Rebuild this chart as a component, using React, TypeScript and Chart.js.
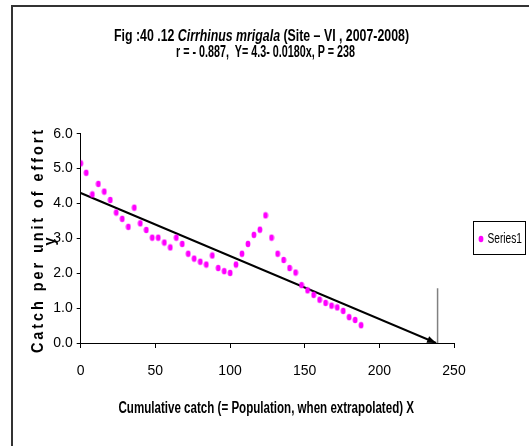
import React, { useEffect, useRef } from "react";
import { Chart, registerables } from "chart.js";
Chart.register(...registerables);

const catchX = [0, 3.7, 7.8, 11.8, 15.8, 19.8, 23.8, 27.8, 31.9, 35.9, 39.9, 43.9, 47.9, 51.9, 56, 60, 64, 68, 72, 76, 80.1, 84.1, 88.1, 92.1, 96.1, 100.1, 104, 108, 112, 116, 120, 123.8, 127.8, 131.9, 135.9, 139.9, 143.9, 147.9, 151.9, 156, 160, 164, 168, 171.8, 175.8, 179.8, 183.8, 187.8];
const cpue = [5.15, 4.88, 4.26, 4.56, 4.34, 4.1, 3.74, 3.56, 3.33, 3.88, 3.43, 3.24, 3.02, 3.02, 2.88, 2.74, 3.02, 2.84, 2.56, 2.42, 2.33, 2.25, 2.51, 2.15, 2.06, 2.01, 2.25, 2.56, 2.84, 3.1, 3.25, 3.66, 3.02, 2.56, 2.38, 2.15, 2.02, 1.66, 1.51, 1.38, 1.24, 1.15, 1.07, 1.02, 0.92, 0.74, 0.66, 0.51];
const fitX = [0, 238];
const fitY = [4.3, 0];
const markX = [239, 239];
const markY = [0, 1.57];
const xTicks = [0, 50, 100, 150, 200, 250];
const yTicks = [0, 1, 2, 3, 4, 5, 6];
const seriesName = "Series1";
const titleParts = [
  { text: "Fig :40 .12 ", italic: false },
  { text: "Cirrhinus mrigala", italic: true },
  { text: " (Site \u2013 VI , 2007-2008)", italic: false },
];
const titleLine2 = "r = - 0.887,  Y= 4.3- 0.0180x, P = 238";
const xTitle = "Cumulative catch (= Population, when extrapolated) X";
const yTitle = "Catch per unit of effort";
const yTitle2 = "y";

const FONT = "'Liberation Sans', Arial, sans-serif";

function makeDot(): HTMLCanvasElement {
  const c = document.createElement("canvas");
  c.width = 6;
  c.height = 8;
  const g = c.getContext("2d")!;
  g.fillStyle = "#ff00ff";
  g.beginPath();
  g.ellipse(3, 4, 2.4, 3.3, 0, 0, Math.PI * 2);
  g.fill();
  return c;
}

// draw text squeezed horizontally to fit [left, right]
function fitText(ctx: CanvasRenderingContext2D, parts: { text: string; font: string }[], left: number, right: number, y: number) {
  let w = 0;
  for (const p of parts) { ctx.font = p.font; w += ctx.measureText(p.text).width; }
  const k = (right - left) / w;
  ctx.save();
  ctx.translate(left, y);
  ctx.scale(k, 1);
  ctx.textAlign = "left";
  ctx.textBaseline = "middle";
  let x = 0;
  for (const p of parts) { ctx.font = p.font; ctx.fillText(p.text, x, 0); x += ctx.measureText(p.text).width; }
  ctx.restore();
}

export default function App() {
  const ref = useRef<HTMLCanvasElement | null>(null);
  useEffect(() => {
    document.body.style.margin = "0";
    const dot = makeDot();
    const deco = {
      id: "deco",
      afterDraw(chart: any) {
        const ctx = chart.ctx as CanvasRenderingContext2D;
        const xs = chart.scales.x;
        const ys = chart.scales.y;
        ctx.save();
        // frame
        ctx.strokeStyle = "#333";
        ctx.lineWidth = 2;
        ctx.beginPath();
        ctx.moveTo(12, 446);
        ctx.lineTo(12, 6);
        ctx.lineTo(529, 6);
        ctx.stroke();
        // arrowhead
        const x0 = xs.getPixelForValue(fitX[0]);
        const y0 = ys.getPixelForValue(fitY[0]);
        const x1 = xs.getPixelForValue(fitX[1]);
        const y1 = ys.getPixelForValue(fitY[1]);
        const a = Math.atan2(y1 - y0, x1 - x0);
        const L = 9, W = 3.5;
        ctx.fillStyle = "#000";
        ctx.beginPath();
        ctx.moveTo(x1, y1);
        ctx.lineTo(x1 - L * Math.cos(a) + W * Math.sin(a), y1 - L * Math.sin(a) - W * Math.cos(a));
        ctx.lineTo(x1 - L * Math.cos(a) - W * Math.sin(a), y1 - L * Math.sin(a) + W * Math.cos(a));
        ctx.closePath();
        ctx.fill();
        // titles
        ctx.fillStyle = "#000";
        const bf = `bold 16px ${FONT}`;
        const bif = `italic bold 16px ${FONT}`;
        fitText(ctx, titleParts.map((p) => ({ text: p.text, font: p.italic ? bif : bf })), 114, 409, 36.5);
        fitText(ctx, [{ text: titleLine2, font: bf }], 176, 355, 53);
        fitText(ctx, [{ text: xTitle, font: bf }], 118.5, 414, 409);
        // y title (letter spaced, rotated)
        ctx.save();
        ctx.translate(43, 241.5);
        ctx.rotate(-Math.PI / 2);
        ctx.font = `bold 17px ${FONT}`;
        ctx.textBaseline = "alphabetic";
        ctx.textAlign = "left";
        const sq = 0.85;
        const chars = yTitle.split("");
        const widths = chars.map((c) => ctx.measureText(c).width * sq);
        const sum = widths.reduce((s, w) => s + w, 0);
        const total = 223;
        const sp = (total - sum) / (chars.length - 1);
        let cx = -total / 2;
        chars.forEach((c, i) => {
          ctx.save();
          ctx.translate(cx, 0);
          ctx.scale(sq, 1);
          ctx.fillText(c, 0, 0);
          ctx.restore();
          cx += widths[i] + sp;
        });
        ctx.save();
        ctx.translate(0, 12);
        ctx.scale(sq, 1);
        ctx.textAlign = "center";
        ctx.fillText(yTitle2, 0, 0);
        ctx.restore();
        ctx.restore();
        // legend
        ctx.strokeStyle = "#000";
        ctx.lineWidth = 1;
        ctx.strokeRect(473.5, 221.5, 52, 33);
        ctx.drawImage(dot, 478, 235);
        ctx.fillStyle = "#000";
        fitText(ctx, [{ text: seriesName, font: `15px ${FONT}` }], 487.5, 522, 238.5);
        ctx.restore();
      },
    };
    const chart = new Chart(ref.current!, {
      type: "scatter",
      data: {
        datasets: [
          {
            label: seriesName,
            data: catchX.map((x, i) => ({ x, y: cpue[i] })),
            pointStyle: dot as any,
            pointRadius: 3,
            showLine: false,
          },
          {
            label: "fit",
            data: fitX.map((x, i) => ({ x, y: fitY[i] })),
            showLine: true,
            borderColor: "#000",
            borderWidth: 2,
            pointRadius: 0,
          },
          {
            label: "P",
            data: markX.map((x, i) => ({ x, y: markY[i] })),
            showLine: true,
            borderColor: "#808080",
            borderWidth: 1.5,
            pointRadius: 0,
          },
        ],
      },
      plugins: [deco],
      options: {
        responsive: false,
        animation: false,
        layout: { padding: { left: 0, top: 133.7, right: 75, bottom: 0 } },
        plugins: { legend: { display: false }, title: { display: false }, tooltip: { enabled: false } },
        scales: {
          x: {
            type: "linear",
            min: 0,
            max: 250,
            afterBuildTicks: (s: any) => { s.ticks = xTicks.map((v) => ({ value: v })); },
            afterFit: (s: any) => { s.height = 103; },
            ticks: { color: "#000", font: { family: FONT, size: 14 }, padding: 15, maxRotation: 0 },
            grid: { drawOnChartArea: false, drawTicks: true, tickLength: 5, color: "#000", lineWidth: 1 },
            border: { color: "#000", width: 1 },
          },
          y: {
            type: "linear",
            min: 0,
            max: 6,
            afterBuildTicks: (s: any) => { s.ticks = yTicks.map((v) => ({ value: v })); },
            afterFit: (s: any) => { s.width = 80.7; },
            ticks: { color: "#000", font: { family: FONT, size: 14 }, padding: 4, callback: (v: any) => Number(v).toFixed(1) },
            grid: { drawOnChartArea: false, drawTicks: true, tickLength: 4, color: "#000", lineWidth: 1 },
            border: { color: "#000", width: 1 },
          },
        },
      },
    });
    return () => chart.destroy();
  }, []);
  return (
    <div style={{ width: 529, height: 446, background: "#fff" }}>
      <canvas ref={ref} width={529} height={446} style={{ display: "block" }} />
    </div>
  );
}
